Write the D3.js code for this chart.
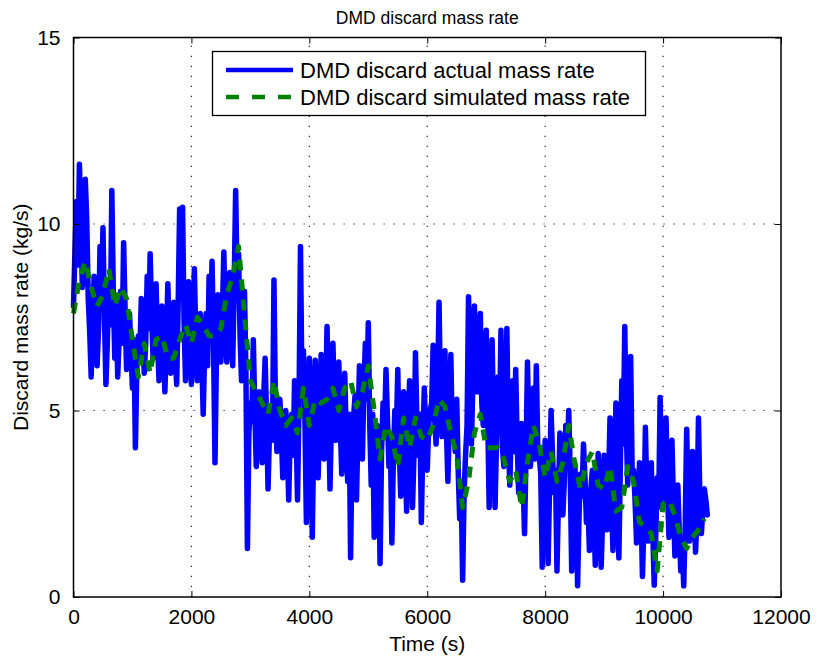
<!DOCTYPE html>
<html>
<head>
<meta charset="utf-8">
<script src="https://cdn.jsdelivr.net/npm/d3@7"></script>
<style>
  html, body { margin: 0; padding: 0; background: #fff; }
  svg { display: block; font-family: "Liberation Sans", Arial, Helvetica, sans-serif; }
</style>
</head>
<body>
<svg id="chart" width="820" height="659"></svg>
<script>
// ---------------- data ----------------
const chartTitle = "DMD discard mass rate";
const xLabel = "Time (s)";
const yLabel = "Discard mass rate (kg/s)";
const seriesNames = ["DMD discard actual mass rate", "DMD discard simulated mass rate"];

const xTicks = [0, 2000, 4000, 6000, 8000, 10000, 12000];
const yTicks = [0, 5, 10, 15];

// actual (blue) series, sampled every 25 s starting at t = 0
const actualStep = 25;
const actualValues = [
  7.8, 9.3, 10.6, 8.9, 11.6, 10.2, 8.3, 9.6, 11.2, 10.1,
  8.0, 7.1, 5.9, 7.4, 8.6, 7.9, 6.2, 7.2, 9.4, 8.1,
  9.9, 7.5, 5.7, 6.9, 8.4, 7.3, 10.9, 8.2, 6.4, 7.8,
  5.9, 7.0, 8.2, 6.8, 9.5, 7.7, 6.1, 7.3, 7.6, 6.6,
  5.6, 6.9, 4.0, 6.2, 7.0, 6.5, 8.0, 7.1, 6.0, 6.8,
  8.6, 7.2, 9.2, 7.6, 6.4, 7.0, 8.4, 6.9, 5.8, 7.1,
  7.8, 6.6, 5.5, 6.8, 8.4, 7.0, 6.0, 7.3, 7.9, 6.5,
  5.7, 7.8, 10.4, 8.0, 10.45, 7.4, 5.8, 7.0, 8.45, 6.7,
  5.7, 7.2, 8.8, 6.9, 5.8, 7.1, 7.6, 6.4, 4.9, 6.6,
  7.6, 6.2, 8.6, 7.0, 9.0, 6.8, 3.6, 6.5, 8.1, 7.2,
  6.3, 7.6, 9.25, 7.4, 6.3, 7.9, 8.7, 7.2, 6.2, 8.3,
  10.9, 8.5, 9.2, 7.0, 5.8, 7.6, 8.2, 6.0, 1.3, 4.4,
  5.2, 4.7, 6.9, 5.0, 3.5, 4.9, 5.5, 4.6, 3.6, 5.3,
  6.4, 4.8, 2.9, 4.5, 5.0, 4.2, 8.5, 5.1, 3.9, 4.6,
  5.3, 4.4, 3.2, 4.7, 5.0, 4.1, 2.6, 4.3, 4.9, 3.8,
  5.8, 4.5, 2.6, 5.2, 9.4, 5.6, 6.6, 4.8, 2.0, 4.6,
  6.4, 5.0, 1.6, 4.3, 6.35, 5.1, 3.2, 4.8, 6.5, 5.4,
  3.7, 5.0, 7.25, 5.2, 2.9, 4.7, 6.8, 5.3, 4.2, 5.5,
  6.3, 4.6, 3.3, 5.0, 6.0, 4.4, 3.1, 4.9, 1.05, 4.2,
  4.8, 5.4, 2.6, 4.5, 6.2, 5.1, 3.7, 5.6, 6.8, 5.3,
  7.35, 4.6, 3.0, 4.9, 1.6, 4.2, 4.6, 3.6, 0.9, 3.9,
  5.2, 4.4, 6.1, 4.8, 3.5, 4.1, 1.45, 3.7, 5.0, 4.3,
  6.1, 4.0, 2.7, 4.5, 5.5, 3.9, 2.3, 4.2, 5.8, 4.6,
  2.4, 3.8, 6.55, 4.7, 3.8, 4.9, 2.0, 4.1, 5.6, 4.4,
  3.4, 4.6, 5.0, 5.2, 6.75, 4.8, 4.1, 5.6, 7.9, 5.3,
  4.3, 5.0, 6.6, 4.5, 3.1, 4.7, 6.5, 4.2, 4.4, 3.9,
  5.3, 3.4, 2.1, 3.0, 0.45, 2.8, 3.8, 4.6, 8.05, 6.4,
  4.1, 5.9, 7.8, 6.2, 5.5, 6.6, 7.6, 5.2, 4.6, 5.8,
  7.15, 4.9, 2.4, 4.4, 6.9, 4.6, 2.4, 4.2, 5.9, 4.4,
  7.15, 4.0, 3.5, 4.8, 7.2, 4.3, 3.0, 4.5, 5.8, 3.9,
  6.1, 4.2, 2.8, 3.6, 4.65, 3.2, 1.7, 3.8, 6.3, 4.1,
  3.5, 4.4, 5.6, 3.7, 6.2, 4.0, 3.8, 3.3, 0.8, 2.9,
  4.2, 3.5, 0.9, 3.0, 5.0, 3.8, 2.8, 3.4, 0.7, 2.6,
  4.4, 3.6, 2.2, 3.1, 4.6, 3.9, 5.0, 3.3, 0.7, 2.4,
  3.6, 2.9, 0.3, 2.2, 3.3, 2.7, 4.1, 3.2, 2.0, 2.6,
  1.25, 2.9, 3.4, 2.3, 0.85, 2.8, 3.85, 2.5, 0.8, 2.1,
  3.8, 2.7, 1.8, 3.1, 4.8, 2.6, 1.25, 3.3, 5.2, 2.9,
  1.05, 3.5, 5.8, 4.1, 7.25, 4.6, 3.0, 3.8, 6.45, 3.4,
  3.4, 2.6, 1.45, 2.2, 3.6, 2.5, 0.55, 2.0, 4.55, 2.7,
  1.5, 2.3, 3.6, 1.8, 0.32, 1.6, 3.2, 2.4, 5.35, 3.0,
  2.5, 3.4, 4.8, 2.8, 1.6, 2.2, 4.2, 2.6, 1.1, 2.0,
  3.0, 1.7, 0.7, 1.5, 0.3, 1.9, 4.5, 2.6, 1.5, 2.3,
  3.9, 2.7, 1.2, 2.1, 4.8, 2.5, 1.7, 2.4, 2.9, 2.6,
  2.2
];

// simulated (green) series, sampled every 100 s starting at t = 0
const simulatedStep = 100;
const simulatedValues = [
  7.6, 8.5, 9.0, 8.3, 7.8, 8.1, 8.8, 7.8, 8.3, 8.0,
  6.9, 5.9, 6.8, 6.0, 6.9, 7.0, 6.4, 6.4, 6.9, 7.3,
  6.8, 7.5, 7.3, 7.0, 7.0, 7.2, 8.1, 8.6, 9.4, 7.6,
  5.8, 5.5, 5.2, 4.9, 5.8, 5.0, 4.6, 4.8, 4.4, 5.6,
  4.6, 5.3, 5.2, 5.3, 5.6, 5.0, 5.6, 5.8, 5.1, 5.5,
  6.2, 5.0, 3.7, 4.6, 4.3, 3.5, 4.8, 4.0, 4.8, 4.3,
  4.2, 4.6, 5.3, 5.1, 4.4, 3.8, 2.4, 3.1, 4.4, 4.9,
  4.0, 4.0, 4.0, 3.7, 3.1, 3.4, 2.4, 3.6, 4.6, 4.1,
  3.2, 3.9, 3.1, 3.6, 4.6, 3.6, 2.9, 3.6, 3.9, 3.0,
  2.9, 3.5, 2.3, 2.4, 3.5, 3.1, 2.0, 1.9, 1.7, 0.7,
  2.5, 2.6, 2.2, 1.6, 1.3, 1.6, 1.8, 2.1
];

// ---------------- drawing ----------------
const svg = d3.select("#chart");
const m = { left: 73.5, right: 781, top: 37.5, bottom: 597 };

const x = d3.scaleLinear().domain([0, 12000]).range([m.left, m.right]);
const y = d3.scaleLinear().domain([0, 15]).range([m.bottom, m.top]);

const actual = actualValues.map((v, i) => ({ t: i * actualStep, v }));
const simulated = simulatedValues.map((v, i) => ({ t: i * simulatedStep, v }));

// grid (under data)
const grid = svg.append("g").attr("class", "grid");
grid.selectAll("line.vx").data(xTicks.slice(1, -1)).enter().append("line")
  .attr("x1", d => x(d)).attr("x2", d => x(d))
  .attr("y1", m.bottom).attr("y2", m.top)
  .attr("stroke", "#222").attr("stroke-width", 1.2)
  .attr("stroke-dasharray", "1.2,8.8");
grid.selectAll("line.hy").data(yTicks.slice(1, -1)).enter().append("line")
  .attr("y1", d => y(d)).attr("y2", d => y(d))
  .attr("x1", m.left).attr("x2", m.right)
  .attr("stroke", "#222").attr("stroke-width", 1.2)
  .attr("stroke-dasharray", "1.2,8.8");

// data lines
const line = d3.line().x(d => x(d.t)).y(d => y(d.v));
svg.append("path").datum(actual)
  .attr("d", line)
  .attr("fill", "none")
  .attr("stroke", "#0000ff")
  .attr("stroke-width", 5.5)
  .attr("stroke-linejoin", "round")
  .attr("stroke-linecap", "round");

svg.append("path").datum(simulated)
  .attr("d", line)
  .attr("fill", "none")
  .attr("stroke", "#008000")
  .attr("stroke-width", 5)
  .attr("stroke-linejoin", "round")
  .attr("stroke-dasharray", "11,9");

// axes
const tickFont = "21px";
const xAxis = d3.axisBottom(x).tickValues(xTicks).tickFormat(d3.format("d"))
  .tickSizeInner(-6).tickSizeOuter(0).tickPadding(12);
const gx = svg.append("g").attr("transform", `translate(0,${m.bottom})`).call(xAxis);
gx.select(".domain").remove();
gx.selectAll("text").attr("font-size", tickFont).attr("fill", "#000")
  .attr("font-family", "Liberation Sans, Arial, sans-serif");
gx.selectAll("line").attr("stroke", "#000").attr("stroke-width", 1);

const xAxisTop = d3.axisTop(x).tickValues(xTicks).tickSizeInner(-6).tickSizeOuter(0).tickFormat("");
const gxt = svg.append("g").attr("transform", `translate(0,${m.top})`).call(xAxisTop);
gxt.select(".domain").remove();
gxt.selectAll("line").attr("stroke", "#000");

const yAxis = d3.axisLeft(y).tickValues(yTicks).tickFormat(d3.format("d"))
  .tickSizeInner(-6).tickSizeOuter(0).tickPadding(13);
const gy = svg.append("g").attr("transform", `translate(${m.left},0)`).call(yAxis);
gy.select(".domain").remove();
gy.selectAll("text").attr("font-size", tickFont).attr("fill", "#000")
  .attr("font-family", "Liberation Sans, Arial, sans-serif");
gy.selectAll("line").attr("stroke", "#000");

const yAxisRight = d3.axisRight(y).tickValues(yTicks).tickSizeInner(-6).tickSizeOuter(0).tickFormat("");
const gyr = svg.append("g").attr("transform", `translate(${m.right},0)`).call(yAxisRight);
gyr.select(".domain").remove();
gyr.selectAll("line").attr("stroke", "#000");

// box
svg.append("rect")
  .attr("x", m.left).attr("y", m.top)
  .attr("width", m.right - m.left).attr("height", m.bottom - m.top)
  .attr("fill", "none").attr("stroke", "#000").attr("stroke-width", 1.5);

// title and labels
svg.append("text").attr("x", (m.left + m.right) / 2).attr("y", 24)
  .attr("text-anchor", "middle").attr("font-size", "17.5px").attr("fill", "#000")
  .text(chartTitle);
svg.append("text").attr("x", (m.left + m.right) / 2).attr("y", 651)
  .attr("text-anchor", "middle").attr("font-size", "21px").attr("fill", "#000")
  .text(xLabel);
svg.append("text")
  .attr("transform", `translate(28,${(m.top + m.bottom) / 2}) rotate(-90)`)
  .attr("text-anchor", "middle").attr("font-size", "21px").attr("fill", "#000")
  .text(yLabel);

// legend
const lg = svg.append("g").attr("class", "legend");
lg.append("rect").attr("x", 212.5).attr("y", 51.5).attr("width", 433).attr("height", 64)
  .attr("fill", "#fff").attr("stroke", "#000").attr("stroke-width", 1.3);
const legendRows = [
  { name: seriesNames[0], color: "#0000ff", dash: null, cy: 70 },
  { name: seriesNames[1], color: "#008000", dash: "13,13", cy: 97 }
];
legendRows.forEach(r => {
  const ln = lg.append("line").attr("x1", 226).attr("x2", 293).attr("y1", r.cy).attr("y2", r.cy)
    .attr("stroke", r.color).attr("stroke-width", 4.5);
  if (r.dash) ln.attr("stroke-dasharray", r.dash);
  lg.append("text").attr("x", 300).attr("y", r.cy + 7.5)
    .attr("font-size", "22px").attr("fill", "#000").text(r.name);
});
</script>
</body>
</html>
